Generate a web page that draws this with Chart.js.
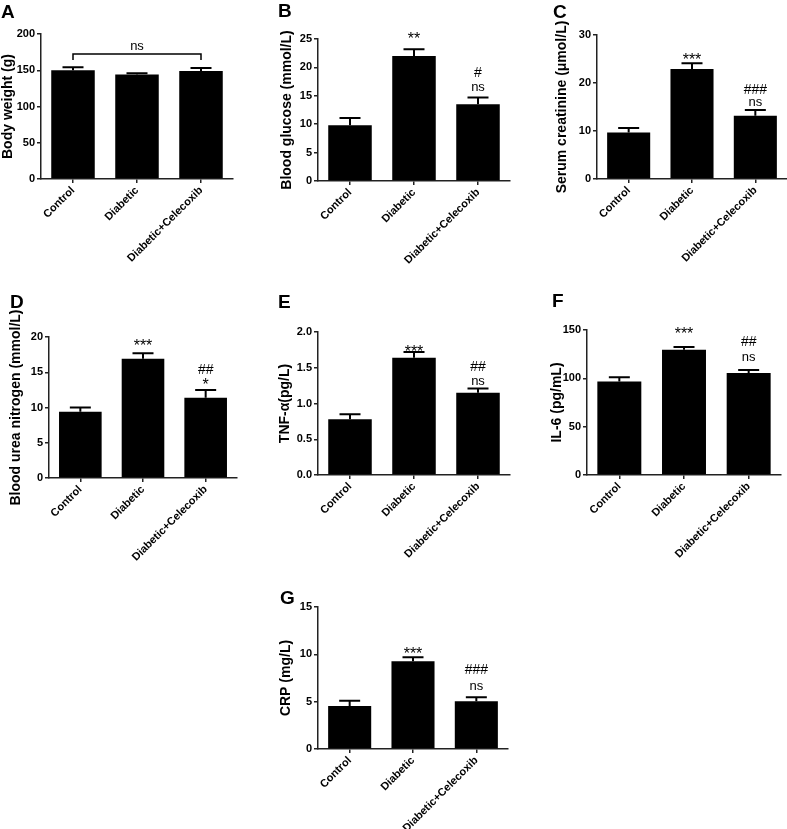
<!DOCTYPE html>
<html>
<head>
<meta charset="utf-8">
<script src="https://cdn.jsdelivr.net/npm/chart.js@4"></script>
<style>
body { margin: 0; background: #fff; width: 787px; height: 829px; position: relative; overflow: hidden; }
canvas { position: absolute; }
</style>
</head>
<body>
<script>
// groups on the x axis (same for every panel)
const groups = ['Control', 'Diabetic', 'Diabetic+Celecoxib'];

// A - body weight
const bodyWeight = [150, 144, 149];
const bodyWeightErr = [4, 2, 4];
// B - blood glucose
const bloodGlucose = [9.8, 22.0, 13.5];
const bloodGlucoseErr = [1.3, 1.2, 1.2];
const bloodGlucoseSig = [[], ['**'], ['ns', '#']];
const bloodGlucoseSigY = [[], [25.7], [16.5, 19.0]];
// C - serum creatinine
const creatinine = [9.7, 22.9, 13.2];
const creatinineErr = [0.9, 1.2, 1.2];
const creatinineSig = [[], ['***'], ['ns', '###']];
const creatinineSigY = [[], [25.8], [16.0, 18.5]];
// D - blood urea nitrogen
const bun = [9.4, 16.9, 11.4];
const bunErr = [0.6, 0.8, 1.1];
const bunSig = [[], ['***'], ['*', '##']];
const bunSigY = [[], [19.4], [13.8, 15.3]];
// E - TNF-a
const tnf = [0.78, 1.64, 1.15];
const tnfErr = [0.07, 0.08, 0.06];
const tnfSig = [[], ['***'], ['ns', '##']];
const tnfSigY = [[], [1.78], [1.31, 1.51]];
// F - IL-6
const il6 = [96.7, 129.6, 105.4];
const il6Err = [4.3, 2.8, 3.1];
const il6Sig = [[], ['***'], ['ns', '##']];
const il6SigY = [[], [150], [122, 137.6]];
// G - CRP
const crp = [4.55, 9.28, 5.05];
const crpErr = [0.55, 0.42, 0.42];
const crpSig = [[], ['***'], ['ns', '###']];
const crpSigY = [[], [10.46], [6.65, 8.35]];

const FONT = "'Liberation Sans', Arial, sans-serif";

// font + vertical nudge for each kind of mark
function markStyle(m) {
    if (m.includes('*')) return { font: '16px ' + FONT, dy: 5 };
    if (m.includes('#')) return { font: '14px ' + FONT, dy: 0 };
    return { font: '13px ' + FONT, dy: 0 };
}

// error bars, significance marks and the panel letter
const extrasPlugin = {
    id: 'extras',
    afterDatasetsDraw(chart, args, opts) {
        const ctx = chart.ctx;
        const meta = chart.getDatasetMeta(0);
        const y = chart.scales.y;
        const ds = chart.data.datasets[0];
        ctx.save();
        ctx.strokeStyle = '#000';
        ctx.lineWidth = 2;
        meta.data.forEach((bar, i) => {
            const yBar = y.getPixelForValue(ds.data[i]);
            const yTop = y.getPixelForValue(ds.data[i] + opts.err[i]);
            ctx.beginPath();
            ctx.moveTo(bar.x, yBar);
            ctx.lineTo(bar.x, yTop);
            ctx.moveTo(bar.x - 10.5, yTop);
            ctx.lineTo(bar.x + 10.5, yTop);
            ctx.stroke();
        });

        ctx.fillStyle = '#000';
        ctx.textAlign = 'center';
        ctx.textBaseline = 'middle';
        (opts.sig || []).forEach((marks, i) => {
            marks.forEach((m, k) => {
                const st = markStyle(m);
                ctx.font = st.font;
                ctx.fillText(m, meta.data[i].x, y.getPixelForValue(opts.sigY[i][k]) + st.dy);
            });
        });

        if (opts.bracket) {
            const b = opts.bracket;
            const x0 = meta.data[b.from].x, x1 = meta.data[b.to].x;
            const yb = y.getPixelForValue(b.y), yt = y.getPixelForValue(b.tickY);
            ctx.lineWidth = 1.5;
            ctx.beginPath();
            ctx.moveTo(x0, yt); ctx.lineTo(x0, yb); ctx.lineTo(x1, yb); ctx.lineTo(x1, yt);
            ctx.stroke();
            ctx.font = '13px ' + FONT;
            ctx.fillText(b.text, (x0 + x1) / 2, y.getPixelForValue(b.textY));
        }

        ctx.textAlign = 'left';
        ctx.textBaseline = 'alphabetic';
        ctx.font = 'bold 19px ' + FONT;
        ctx.fillText(opts.letter, opts.letterPos[0], opts.letterPos[1]);
        ctx.restore();
    }
};

function makePanel(p) {
    const [bx, by, bw, bh] = p.box;
    const cv = document.createElement('canvas');
    cv.width = bw; cv.height = bh;
    cv.style.left = bx + 'px'; cv.style.top = by + 'px';
    document.body.appendChild(cv);

    const titleLine = 14 * 1.2;
    const padLeft = p.titleX - bx - titleLine / 2;

    return new Chart(cv.getContext('2d'), {
        type: 'bar',
        data: {
            labels: groups,
            datasets: [{
                data: p.values,
                backgroundColor: '#000',
                borderWidth: 0,
                barPercentage: 0.68,
                categoryPercentage: 1
            }]
        },
        options: {
            responsive: false,
            animation: false,
            devicePixelRatio: 1,
            layout: { padding: { left: padLeft, top: p.top - by, right: bx + bw - p.right, bottom: 0 } },
            plugins: {
                legend: { display: false },
                tooltip: { enabled: false },
                extras: {
                    err: p.err, sig: p.sig, sigY: p.sigY, bracket: p.bracket,
                    letter: p.letter, letterPos: [p.letterAt[0] - bx, p.letterAt[1] - by]
                }
            },
            scales: {
                x: {
                    afterFit: s => { s.height = by + bh - p.bottom; },
                    border: { display: true, color: '#222', width: 1.5 },
                    grid: { display: true, offset: false, drawOnChartArea: false, drawTicks: true, tickLength: 4, color: '#222', lineWidth: 1.5 },
                    ticks: {
                        color: '#000', minRotation: 45, maxRotation: 45, autoSkip: false, padding: 1,
                        font: { family: FONT, size: 11, weight: 'bold' }
                    }
                },
                y: {
                    min: 0, max: p.max,
                    afterFit: s => { s.width = p.axisX - bx - padLeft; },
                    border: { display: true, color: '#222', width: 1.5 },
                    grid: { display: true, drawOnChartArea: false, drawTicks: true, tickLength: 4, color: '#222', lineWidth: 1.5 },
                    ticks: {
                        stepSize: p.step, color: '#000', padding: 2,
                        font: { family: FONT, size: 11, weight: 'bold' },
                        callback: v => p.decimals ? v.toFixed(p.decimals) : v
                    },
                    title: {
                        display: true, text: p.title, color: '#000', padding: 0,
                        font: { family: FONT, size: 14, weight: 'bold', lineHeight: 1.2 }
                    }
                }
            }
        },
        plugins: [extrasPlugin]
    });
}

makePanel({
    box: [0, 0, 262, 290], axisX: 41, top: 34, bottom: 179, right: 233, titleX: 8,
    letter: 'A', letterAt: [1, 18], title: 'Body weight (g)', max: 200, step: 50,
    values: bodyWeight, err: bodyWeightErr,
    bracket: { from: 0, to: 2, y: 172.4, tickY: 164, text: 'ns', textY: 183 }
});
makePanel({
    box: [262, 0, 262, 290], axisX: 318, top: 39, bottom: 181, right: 510, titleX: 287,
    letter: 'B', letterAt: [278, 17], title: 'Blood glucose (mmol/L)', max: 25, step: 5,
    values: bloodGlucose, err: bloodGlucoseErr, sig: bloodGlucoseSig, sigY: bloodGlucoseSigY
});
makePanel({
    box: [524, 0, 263, 290], axisX: 597, top: 35, bottom: 179, right: 787, titleX: 562,
    letter: 'C', letterAt: [553, 18], title: 'Serum creatinine (\u03bcmol/L)', max: 30, step: 10,
    values: creatinine, err: creatinineErr, sig: creatinineSig, sigY: creatinineSigY
});
makePanel({
    box: [0, 285, 262, 290], axisX: 49, top: 337, bottom: 478, right: 237, titleX: 16.5,
    letter: 'D', letterAt: [10, 308], title: 'Blood urea nitrogen (mmol/L)', max: 20, step: 5,
    values: bun, err: bunErr, sig: bunSig, sigY: bunSigY
});
makePanel({
    box: [262, 285, 262, 290], axisX: 318, top: 332, bottom: 475, right: 510, titleX: 285,
    letter: 'E', letterAt: [278, 308], title: 'TNF-\u03b1(pg/L)', max: 2, step: 0.5, decimals: 1,
    values: tnf, err: tnfErr, sig: tnfSig, sigY: tnfSigY
});
makePanel({
    box: [524, 285, 263, 290], axisX: 587, top: 330, bottom: 475, right: 781, titleX: 557.5,
    letter: 'F', letterAt: [552, 307], title: 'IL-6 (pg/mL)', max: 150, step: 50,
    values: il6, err: il6Err, sig: il6Sig, sigY: il6SigY
});
makePanel({
    box: [262, 575, 262, 254], axisX: 318, top: 607, bottom: 749, right: 508, titleX: 286,
    letter: 'G', letterAt: [280, 604], title: 'CRP (mg/L)', max: 15, step: 5,
    values: crp, err: crpErr, sig: crpSig, sigY: crpSigY
});
</script>
</body>
</html>
